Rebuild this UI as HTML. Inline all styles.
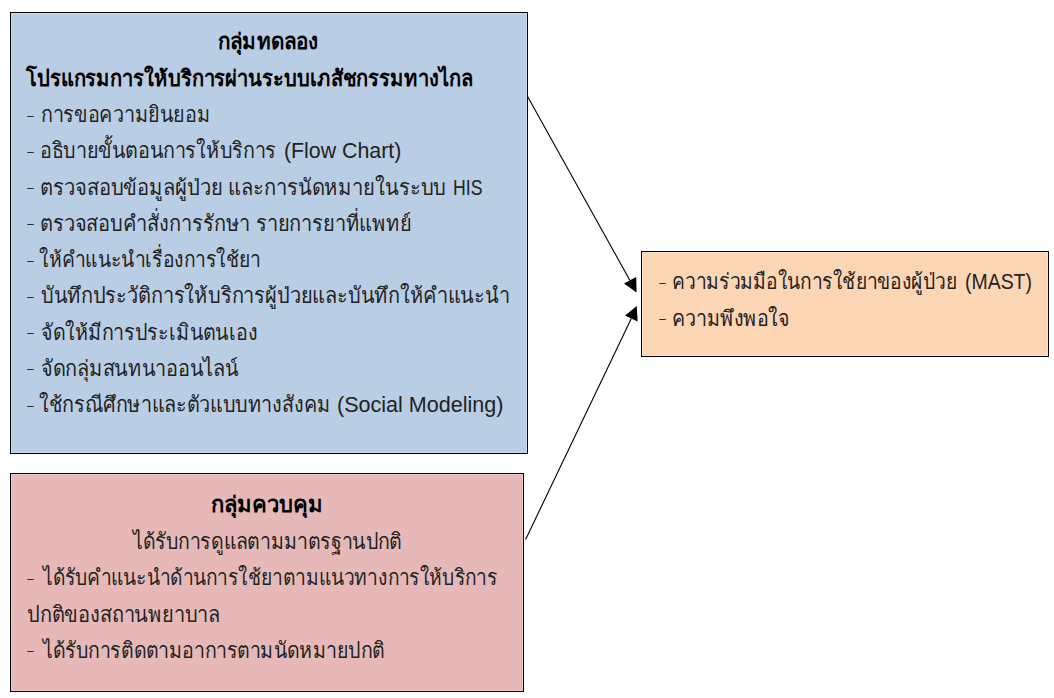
<!DOCTYPE html><html><head><meta charset="utf-8"><title>diagram</title><style>

html,body{margin:0;padding:0;background:#fff;width:1054px;height:698px;overflow:hidden}
body{position:relative;font-family:"Liberation Sans",sans-serif;color:#000}
.l{color:#222}
.b{color:#000}
.box{position:absolute;box-sizing:border-box;border:1px solid #000}
.in{position:absolute;left:0;top:0;right:0;bottom:0}
#b1{left:10px;top:12px;width:518px;height:442px;background:#b9cde5}
#b1 .in{border-top:1px solid #c6dbf3;border-left:1px solid #c6dbf3;border-right:1px solid #c6dbf3;border-bottom:1px solid #c6dbf3}
#b2{left:10px;top:473px;width:514px;height:219px;background:#e6b9b8}
#b2 .in{border:1px solid #f5c6c5}
#b3{left:641px;top:251px;width:408px;height:106px;background:#fcd5b5}
#b3 .in{border:1px solid #ffe3c6}
.l{position:absolute;white-space:nowrap;font-size:22px;line-height:40px;height:40px;transform-origin:0 0}
.b{font-weight:bold}
.d{transform-origin:0 21px}
svg{position:absolute;left:0;top:0}

</style></head><body>
<div class="box" id="b1"><div class="in"></div></div>
<div class="box" id="b2"><div class="in"></div></div>
<div class="box" id="b3"><div class="in"></div></div>
<svg width="1054" height="698" viewBox="0 0 1054 698">
<line x1="527.6" y1="96.6" x2="630" y2="280.5" stroke="#000" stroke-width="1.1"/>
<polygon points="624,283.6 636.2,277 636.6,292.6" fill="#000"/>
<line x1="525.6" y1="539.5" x2="631.3" y2="318.4" stroke="#000" stroke-width="1.1"/>
<polygon points="625,315.4 637.6,321.5 636.8,306.1" fill="#000"/>
</svg>
<div class="l b" style="left:217.56px;top:21.50px;transform:scaleX(0.9400)">กลุ่มทดลอง</div>
<div class="l b" style="left:26.00px;top:58.75px;transform:scaleX(0.9150)">โปรแกรมการให้บริการผ่านระบบเภสัชกรรมทางไกล</div>
<div class="l d" style="left:25.96px;top:94.50px;transform:scale(1.2200,0.5)">-</div>
<div class="l" style="left:41.00px;top:95.00px;transform:scaleX(0.8995)">การขอความยินยอม</div>
<div class="l d" style="left:25.96px;top:130.75px;transform:scale(1.2200,0.5)">-</div>
<div class="l" style="left:39.90px;top:131.25px;transform:scaleX(0.8977)">อธิบายขั้นตอนการให้บริการ</div>
<div class="l" style="left:283.53px;top:131.25px;transform:scaleX(0.9689)">(Flow Chart)</div>
<div class="l d" style="left:25.96px;top:167.00px;transform:scale(1.2200,0.5)">-</div>
<div class="l" style="left:39.87px;top:167.50px;transform:scaleX(0.9169)">ตรวจสอบข้อมูลผู้ป่วย และการนัดหมายในระบบ</div>
<div class="l" style="left:452.59px;top:167.50px;transform:scaleX(0.8029)">HIS</div>
<div class="l d" style="left:25.96px;top:203.25px;transform:scale(1.2200,0.5)">-</div>
<div class="l" style="left:39.88px;top:203.75px;transform:scaleX(0.9099)">ตรวจสอบคำสั่งการรักษา รายการยาที่แพทย์</div>
<div class="l d" style="left:25.96px;top:239.50px;transform:scale(1.2200,0.5)">-</div>
<div class="l" style="left:39.12px;top:240.00px;transform:scaleX(0.8768)">ให้คำแนะนำเรื่องการใช้ยา</div>
<div class="l d" style="left:25.96px;top:275.75px;transform:scale(1.2200,0.5)">-</div>
<div class="l" style="left:40.59px;top:276.25px;transform:scaleX(0.9078)">บันทึกประวัติการให้บริการผู้ป่วยและบันทึกให้คำแนะนำ</div>
<div class="l d" style="left:25.96px;top:312.00px;transform:scale(1.2200,0.5)">-</div>
<div class="l" style="left:40.61px;top:312.50px;transform:scaleX(0.8946)">จัดให้มีการประเมินตนเอง</div>
<div class="l d" style="left:25.96px;top:348.25px;transform:scale(1.2200,0.5)">-</div>
<div class="l" style="left:40.59px;top:348.75px;transform:scaleX(0.9055)">จัดกลุ่มสนทนาออนไลน์</div>
<div class="l d" style="left:25.96px;top:384.50px;transform:scale(1.2200,0.5)">-</div>
<div class="l" style="left:39.10px;top:385.00px;transform:scaleX(0.9006)">ใช้กรณีศึกษาและตัวแบบทางสังคม</div>
<div class="l" style="left:336.62px;top:385.00px;transform:scaleX(0.9786)">(Social Modeling)</div>
<div class="l b" style="left:211.00px;top:484.90px;transform:scaleX(1.0000)">กลุ่มควบคุม</div>
<div class="l" style="left:132.79px;top:522.15px;transform:scaleX(0.8875)">ได้รับการดูแลตามมาตรฐานปกติ</div>
<div class="l d" style="left:25.96px;top:557.90px;transform:scale(1.2200,0.5)">-</div>
<div class="l" style="left:42.87px;top:558.40px;transform:scaleX(0.8722)">ได้รับคำแนะนำด้านการใช้ยาตามแนวทางการให้บริการ</div>
<div class="l" style="left:27.39px;top:594.65px;transform:scaleX(0.9105)">ปกติของสถานพยาบาล</div>
<div class="l d" style="left:25.96px;top:630.40px;transform:scale(1.2200,0.5)">-</div>
<div class="l" style="left:42.89px;top:630.90px;transform:scaleX(0.8875)">ได้รับการติดตามอาการตามนัดหมายปกติ</div>
<div class="l d" style="left:658.36px;top:261.50px;transform:scale(1.2200,0.5)">-</div>
<div class="l" style="left:672.25px;top:262.00px;transform:scaleX(0.8739)">ความร่วมมือในการใช้ยาของผู้ป่วย</div>
<div class="l" style="left:964.72px;top:262.00px;transform:scaleX(0.8838)">(MAST)</div>
<div class="l d" style="left:658.36px;top:298.00px;transform:scale(1.2200,0.5)">-</div>
<div class="l" style="left:672.21px;top:298.50px;transform:scaleX(0.8930)">ความพึงพอใจ</div>
<script>(function(){var W=[107, 488, 7.328, 188, 7.328, 263, 121.016, 7.328, 443.125, 36.688, 7.328, 408.125, 7.328, 253, 7.328, 516, 7.328, 242, 7.328, 218, 7.328, 324, 169.969, 112, 303, 7.328, 521, 212, 7.328, 385, 7.328, 326, 75.766, 7.328, 132],S=[0.94, 0.915, 1.24, 0.8995, 1.24, 0.8977, 0.9689, 1.24, 0.9169, 0.8029, 1.24, 0.9099, 1.24, 0.8768, 1.24, 0.9078, 1.24, 0.8946, 1.24, 0.9055, 1.24, 0.9006, 0.9786, 1.0, 0.8875, 1.24, 0.8722, 0.9105, 1.24, 0.8875, 1.24, 0.8739, 0.8838, 1.24, 0.893];var e=document.querySelectorAll(".l");for(var i=0;i<e.length&&i<W.length;i++){if(e[i].className.indexOf("d")>=0&&e[i].textContent=="-")continue;var r=e[i].getBoundingClientRect().width/S[i];if(!r)continue;var q=W[i]/r;if(Math.abs(q-1)>0.03){e[i].style.transform="scaleX("+(S[i]*q).toFixed(4)+")";}}})();</script>
</body></html>
